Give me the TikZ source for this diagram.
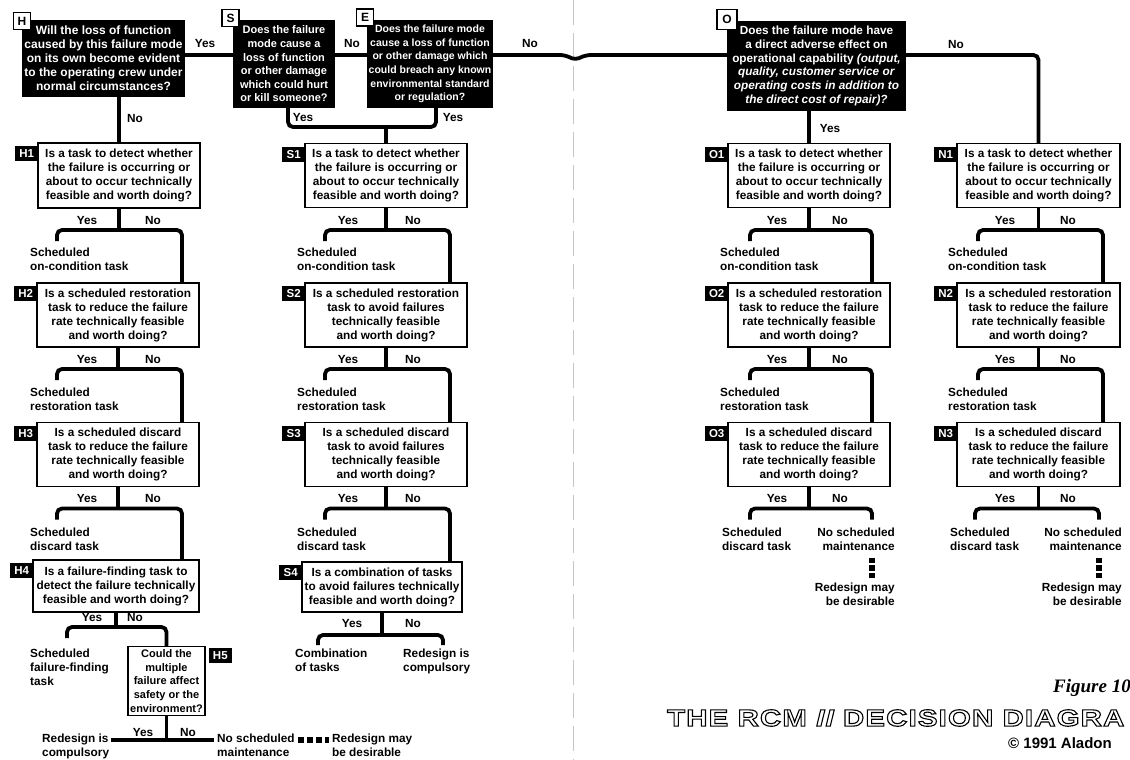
\documentclass[tikz,border=0pt]{standalone}
\usepackage{fontspec}
\setmainfont{Liberation Sans}
\newfontfamily\serifbi{Liberation Serif}
\newfontfamily\ttlfont[FakeStretch=1.25,LetterSpace=5]{Liberation Sans}
\usetikzlibrary{calc}
\newcommand{\ynnext}[5]{%
  \coordinate (#1-L) at (#3,#5+11);
  \coordinate (#1-R) at (#4,#5);
  \draw[flow] (#1.south) -- (#1.south |- #1-R);
  \draw[flow] (#1-L) |- (#1-R) -- (#2.north -| #1-R);
}
\newcommand{\ynend}[5]{%
  \coordinate (#1-L) at (#2,#4+#5);
  \coordinate (#1-R) at (#3,#4+#5);
  \coordinate (#1-B) at (#2,#4);
  \draw[flow] (#1.south) -- (#1.south |- #1-B);
  \draw[flow] (#1-L) |- (#1.south |- #1-B) -| (#1-R);
}
\newcommand{\outlinetext}[1]{\special{pdf:literal direct 2 Tr 1.1 w 1 g 0 G}#1\special{pdf:literal direct 0 Tr 0 g 0 G}}
\tikzset{
  flow/.style={line width=3.8pt, rounded corners=5pt},
  qbox/.style={draw, line width=1.2pt, fill=white, align=center, inner sep=0pt,
    minimum width=162pt, minimum height=64pt, font=\fontsize{11.8}{14}\selectfont\bfseries},
  blk/.style={fill=black, text=white, align=center, inner sep=0pt},
  wtag/.style={draw, line width=1.1pt, fill=white, inner sep=0pt, minimum width=17pt,
    minimum height=17pt, font=\fontsize{12}{12}\selectfont\bfseries},
  btag/.style={fill=black, text=white, inner sep=0pt, minimum width=23pt, minimum height=15pt,
    font=\fontsize{11.5}{12}\selectfont\bfseries},
  lab/.style={inner sep=0pt, font=\fontsize{11.8}{14}\selectfont\bfseries},
  otxt/.style={inner sep=0pt, align=left, anchor=north west, font=\fontsize{11.8}{14}\selectfont\bfseries},
  otxtr/.style={inner sep=0pt, align=right, anchor=north east, font=\fontsize{11.8}{14}\selectfont\bfseries},
  sqh/.style={line width=6pt, dash pattern=on 6pt off 3pt},
  sqv/.style={line width=6pt, dash pattern=on 5.5pt off 2.3pt},
  ttl/.style={inner sep=0pt, anchor=west, font=\ttlfont\bfseries\fontsize{23.5}{23.5}\selectfont},
}
\begin{document}
\begin{tikzpicture}[x=1pt,y=-1pt]
\path[use as bounding box] (0,0) rectangle (1130,760);
\clip (0,0) rectangle (1130,760);
\fill[white] (0,0) rectangle (1130,760);
% page gutter
\draw[gray!45, line width=0.7pt, dash pattern=on 25pt off 8pt] (573,0) -- (573,760);

% ---------- top row ----------
\node[blk, minimum width=163pt, minimum height=77pt, font=\fontsize{12}{14}\selectfont\bfseries] (H) at (103.5,58.5)
  {Will the loss of function\\caused by this failure mode\\on its own become evident\\to the operating crew under\\normal circumstances?};
\node[blk, minimum width=102pt, minimum height=88pt, font=\fontsize{11}{13.6}\selectfont\bfseries] (S) at (284,64)
  {Does the failure\\mode cause a\\loss of function\\or other damage\\which could hurt\\or kill someone?};
\node[blk, minimum width=126pt, minimum height=88pt, font=\fontsize{10.5}{13.6}\selectfont\bfseries] (E) at (430,64)
  {Does the failure mode\\cause a loss of function\\or other damage which\\could breach any known\\environmental standard\\or regulation?};
\node[blk, minimum width=179pt, minimum height=90pt, font=\fontsize{11.8}{13.8}\selectfont\bfseries] (O) at (816.5,66)
  {Does the failure mode have\\a direct adverse effect on\\operational capability \textit{(output,}\\\textit{quality, customer service or}\\\textit{operating costs in addition to}\\\textit{the direct cost of repair)?}};
\node[wtag] (Ht) at (22,21) {H};
\node[wtag] (St) at (230.5,18) {S};
\node[wtag] (Et) at (365,17.5) {E};
\node[wtag, minimum width=20pt, minimum height=20pt] (Ot) at (727,19.5) {O};

% ---------- H column ----------
\node[qbox, minimum height=65pt] (H1) at (119,175.5) {Is a task to detect whether\\the failure is occurring or\\about to occur technically\\feasible and worth doing?};
\node[qbox] (H2) at (118,315) {Is a scheduled restoration\\task to reduce the failure\\rate technically feasible\\and worth doing?};
\node[qbox] (H3) at (118,454.5) {Is a scheduled discard\\task to reduce the failure\\rate technically feasible\\and worth doing?};
\node[qbox, minimum width=166pt, minimum height=52pt] (H4) at (116,586) {Is a failure-finding task to\\detect the failure technically\\feasible and worth doing?};
\node[qbox, minimum width=77pt, minimum height=69pt, font=\fontsize{11}{13.6}\selectfont\bfseries] (H5) at (166.5,681) {Could the\\multiple\\failure affect\\safety or the\\environment?};

% ---------- S column ----------
\node[qbox] (S1) at (386,175.5) {Is a task to detect whether\\the failure is occurring or\\about to occur technically\\feasible and worth doing?};
\node[qbox] (S2) at (386,315) {Is a scheduled restoration\\task to avoid failures\\technically feasible\\and worth doing?};
\node[qbox] (S3) at (386,454.5) {Is a scheduled discard\\task to avoid failures\\technically feasible\\and worth doing?};
\node[qbox, minimum width=160pt, minimum height=50pt] (S4) at (382,587) {Is a combination of tasks\\to avoid failures technically\\feasible and worth doing?};

% ---------- O column ----------
\node[qbox] (O1) at (809,175.5) {Is a task to detect whether\\the failure is occurring or\\about to occur technically\\feasible and worth doing?};
\node[qbox] (O2) at (809,315) {Is a scheduled restoration\\task to reduce the failure\\rate technically feasible\\and worth doing?};
\node[qbox] (O3) at (809,454.5) {Is a scheduled discard\\task to reduce the failure\\rate technically feasible\\and worth doing?};

% ---------- N column ----------
\node[qbox, minimum width=163pt] (N1) at (1038.5,175.5) {Is a task to detect whether\\the failure is occurring or\\about to occur technically\\feasible and worth doing?};
\node[qbox, minimum width=163pt] (N2) at (1038.5,315) {Is a scheduled restoration\\task to reduce the failure\\rate technically feasible\\and worth doing?};
\node[qbox, minimum width=163pt] (N3) at (1038.5,454.5) {Is a scheduled discard\\task to reduce the failure\\rate technically feasible\\and worth doing?};

% ---------- tags ----------
\foreach \b in {H1,H2,H3,H4,S1,S2,S3,S4,O1,O2,O3,N1,N2,N3}
  \node[btag, anchor=north east] (\b t) at ([xshift=1pt,yshift=-3.5pt]\b.north west) {\b};
\node[btag, anchor=north west] (H5t) at ([xshift=3pt,yshift=-2pt]H5.north east) {H5};

% ---------- top connectors ----------
\coordinate (Ymid) at (0,55);
\coordinate (k1) at (565,55);
\coordinate (k2) at (575,60);
\coordinate (k3) at (586,55);
\draw[flow] (H.east |- Ymid) -- (S.west |- Ymid);
\draw[flow] (S.east |- Ymid) -- (E.west |- Ymid);
\draw[flow] (E.east |- Ymid) -- (k1) -- (k2) -- (k3) -- (O.west |- Ymid);
\draw[flow] (O.east |- Ymid) -- (N1.north |- Ymid) -- (N1.north);
\draw[flow] (H.south -| H1.north) -- (H1.north);
\draw[flow] (O.south -| O1.north) -- (O1.north);
\coordinate (SEl) at (288,127);
\coordinate (SEr) at (436,127);
\draw[flow] (S.south -| SEl) -- (SEl) -- (SEr) -- (E.south -| SEr);
\draw[flow] (S1.north |- SEl) -- (S1.north);

\node[lab] (lHS) at (205,43) {Yes};
\node[lab] (lSE) at (352,43) {No};
\node[lab] (lEO) at (530,43) {No};
\node[lab] (lON) at (956,44) {No};
\node[lab] (lH1) at (135,118) {No};
\node[lab] (lS1) at (303,117) {Yes};
\node[lab] (lE1) at (453,117) {Yes};
\node[lab] (lO1) at (830,128) {Yes};

% ---------- branches ----------
\ynnext{H1}{H2}{57}{182}{230}
\ynnext{H2}{H3}{57}{182}{369}
\ynnext{H3}{H4}{57}{182}{508.5}
\ynnext{H4}{H5}{67}{166.5}{627}
\ynnext{S1}{S2}{325}{450}{230}
\ynnext{S2}{S3}{325}{450}{369}
\ynnext{S3}{S4}{325}{450}{508.5}
\ynend{S4}{318}{443}{635}{10}
\ynnext{O1}{O2}{750}{872}{230}
\ynnext{O2}{O3}{750}{872}{369}
\ynend{O3}{750}{872}{508.5}{11}
\ynnext{N1}{N2}{978}{1103}{230}
\ynnext{N2}{N3}{978}{1103}{369}
\ynend{N3}{975}{1099}{508.5}{11}

% Yes / No labels
\foreach \y [count=\i] in {220,359,498} {
  \node[lab] (Hy\i) at (87,\y) {Yes}; \node[lab] (Hn\i) at (153,\y) {No};
  \node[lab] (Sy\i) at (348,\y) {Yes}; \node[lab] (Sn\i) at (413,\y) {No};
  \node[lab] (Oy\i) at (777,\y) {Yes}; \node[lab] (On\i) at (840,\y) {No};
  \node[lab] (Ny\i) at (1005,\y) {Yes}; \node[lab] (Nn\i) at (1068,\y) {No};
}
\node[lab] (Hy4) at (92,617) {Yes}; \node[lab] (Hn4) at (135,617) {No};
\node[lab] (Hy5) at (143,732) {Yes}; \node[lab] (Hn5) at (188,732) {No};
\node[lab] (Sy4) at (352,623) {Yes}; \node[lab] (Sn4) at (413,623) {No};

% ---------- outcomes ----------
\node[otxt] (H1o) at (30,247.5) {Scheduled\\on-condition task};
\node[otxt] (H2o) at (30,387.5) {Scheduled\\restoration task};
\node[otxt] (H3o) at (30,527.5) {Scheduled\\discard task};
\node[otxt] (H4o) at (30,648.5) {Scheduled\\failure-finding\\task};
\node[otxt] (S1o) at (297,247.5) {Scheduled\\on-condition task};
\node[otxt] (S2o) at (297,387.5) {Scheduled\\restoration task};
\node[otxt] (S3o) at (297,527.5) {Scheduled\\discard task};
\node[otxt] (S4y) at (295,648.5) {Combination\\of tasks};
\node[otxt] (S4n) at (403,648.5) {Redesign is\\compulsory};
\node[otxt] (O1o) at (720,247.5) {Scheduled\\on-condition task};
\node[otxt] (O2o) at (720,387.5) {Scheduled\\restoration task};
\node[otxt] (O3y) at (722,527.5) {Scheduled\\discard task};
\node[otxtr] (O3n) at (895,527.5) {No scheduled\\maintenance};
\node[otxtr] (O3r) at (895,582.5) {Redesign may\\be desirable};
\node[otxt] (N1o) at (948,247.5) {Scheduled\\on-condition task};
\node[otxt] (N2o) at (948,387.5) {Scheduled\\restoration task};
\node[otxt] (N3y) at (950,527.5) {Scheduled\\discard task};
\node[otxtr] (N3n) at (1122,527.5) {No scheduled\\maintenance};
\node[otxtr] (N3r) at (1122,582.5) {Redesign may\\be desirable};
\draw[sqv] ($(O3n.south -| O3-R)+(0,7)$) -- ($(O3r.north -| O3-R)+(0,-5)$);
\draw[sqv] ($(N3n.south -| N3-R)+(0,7)$) -- ($(N3r.north -| N3-R)+(0,-5)$);

% H5 bottom
\coordinate (Hb) at (166.5,740);
\node[otxt] (RIC) at (42,733.5) {Redesign is\\compulsory};
\node[otxt] (NSMh) at (217,733.5) {No scheduled\\maintenance};
\node[otxt] (RMDh) at (332,733.5) {Redesign may\\be desirable};
\draw[flow] (H5.south) -- (Hb);
\draw[flow, rounded corners=0pt] ($(RIC.east |- Hb)+(2,0)$) -- ($(NSMh.west |- Hb)+(-3,0)$);
\draw[sqh] ($(NSMh.east |- Hb)+(3,0)$) -- ($(RMDh.west |- Hb)+(-3,0)$);

% ---------- title block ----------
\node[inner sep=0pt, anchor=west, font=\serifbi\bfseries\itshape\fontsize{19}{19}\selectfont] (fig) at (1053,688) {Figure 10};
\node[ttl, text=black] (ttl) at (667,718) {\outlinetext{THE RCM {\itshape II} DECISION DIAGRA}};
\node[inner sep=0pt, anchor=west, font=\fontsize{15}{15}\selectfont\bfseries] (copy) at (1008,743) {© 1991 Aladon};
\end{tikzpicture}
\end{document}
